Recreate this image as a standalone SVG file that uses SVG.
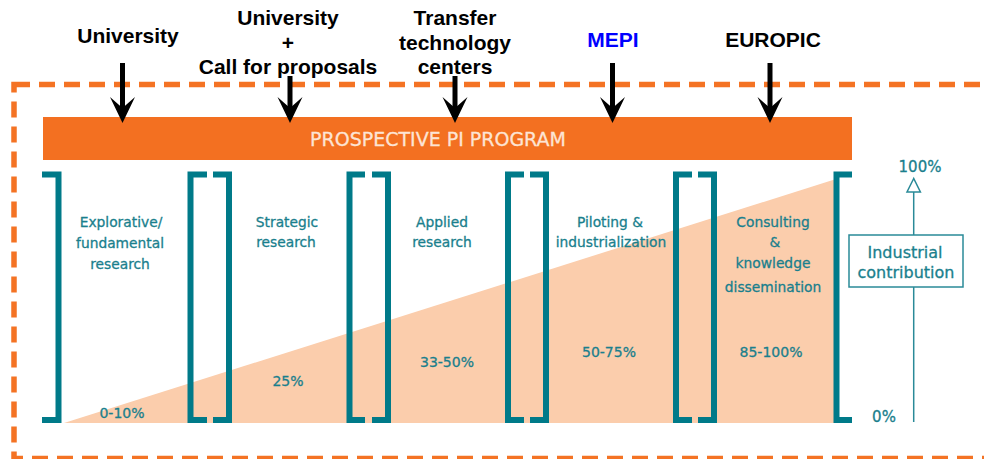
<svg xmlns="http://www.w3.org/2000/svg" width="984" height="459" viewBox="0 0 984 459">
<defs>
<style>
.src{font-family:"Liberation Sans",Arial,sans-serif;font-weight:bold;font-size:21px;fill:#000;text-anchor:middle}
.tl{font-family:"DejaVu Sans",sans-serif;font-size:13.8px;fill:#1a7f8d;stroke:#1a7f8d;stroke-width:0.3;text-anchor:middle}
.pct{font-family:"DejaVu Sans",sans-serif;font-size:14px;fill:#1a7f8d;stroke:#1a7f8d;stroke-width:0.3;text-anchor:middle}
.ax{font-family:"DejaVu Sans",sans-serif;fill:#1a7f8d;stroke:#1a7f8d;stroke-width:0.3;text-anchor:middle}
.br{fill:none;stroke:#007a89;stroke-width:6;stroke-linejoin:miter}
.shaft{stroke:#000;stroke-width:5;fill:none}
.head{fill:#000}
</style>
</defs>
<rect width="984" height="459" fill="#fff"/>
<g id="frame">
<rect x="14" y="84.5" width="980" height="374" fill="none" stroke="#f47324" stroke-width="5.5" stroke-dasharray="16 9"/>
</g>
<g id="triangle">
<polygon points="64,423 836,179 836,423" fill="#fbcdac"/>
</g>
<g id="program-bar">
<rect x="43" y="117" width="809" height="43" fill="#f37021"/>
<text x="438" y="146" font-family="DejaVu Sans,sans-serif" font-size="19" fill="#fde4d4" stroke="#fde4d4" stroke-width="0.3" text-anchor="middle">PROSPECTIVE PI PROGRAM</text>
</g>
<g id="src-university">
<text class="src" x="128" y="43">University</text>
</g>
<g id="src-university-call">
<text class="src" x="288" y="25">University</text>
<text class="src" x="288" y="50">+</text>
<text class="src" x="288" y="74">Call for proposals</text>
</g>
<g id="src-transfer">
<text class="src" x="455" y="25">Transfer</text>
<text class="src" x="455" y="50">technology</text>
<text class="src" x="455" y="74">centers</text>
</g>
<g id="src-mepi">
<text class="src" x="613" y="47" style="fill:#0000ff">MEPI</text>
</g>
<g id="src-europic">
<text class="src" x="773" y="47">EUROPIC</text>
</g>
<g id="connectors">
<line class="shaft" x1="122.5" y1="63" x2="122.5" y2="110"/>
<path class="head" d="M110,97 L122.5,123 L135,97 L122.5,108 Z"/>
<line class="shaft" x1="290" y1="76" x2="290" y2="110"/>
<path class="head" d="M277.5,97 L290,123 L302.5,97 L290,108 Z"/>
<line class="shaft" x1="455" y1="76" x2="455" y2="110"/>
<path class="head" d="M442.5,97 L455,123 L467.5,97 L455,108 Z"/>
<line class="shaft" x1="612.5" y1="63" x2="612.5" y2="110"/>
<path class="head" d="M600,97 L612.5,123 L625,97 L612.5,108 Z"/>
<line class="shaft" x1="770" y1="63" x2="770" y2="110"/>
<path class="head" d="M757.5,97 L770,123 L782.5,97 L770,108 Z"/>
</g>
<g id="brackets">
<path class="br" d="M42,174.5 H58.5 V420 H42"/>
<path class="br" d="M207,174.5 H190.5 V420 H207"/>
<path class="br" d="M213,174.5 H229 V420 H213"/>
<path class="br" d="M365,174.5 H349.5 V420 H365"/>
<path class="br" d="M372,174.5 H388 V420 H372"/>
<path class="br" d="M524,174.5 H508 V420 H524"/>
<path class="br" d="M530,174.5 H546 V420 H530"/>
<path class="br" d="M692,174.5 H676 V420 H692"/>
<path class="br" d="M698,174.5 H714 V420 H698"/>
<path class="br" d="M852,174.5 H836.5 V420 H852"/>
</g>
<g id="stage-explorative">
<text class="tl" x="121" y="227">Explorative/</text>
<text class="tl" x="120" y="248">fundamental</text>
<text class="tl" x="120" y="269">research</text>
<text class="pct" x="122" y="418">0-10%</text>
</g>
<g id="stage-strategic">
<text class="tl" x="287" y="227">Strategic</text>
<text class="tl" x="286" y="247">research</text>
<text class="pct" x="288" y="386">25%</text>
</g>
<g id="stage-applied">
<text class="tl" x="442" y="227">Applied</text>
<text class="tl" x="442" y="247">research</text>
<text class="pct" x="447" y="367">33-50%</text>
</g>
<g id="stage-piloting">
<text class="tl" x="610" y="227">Piloting &amp;</text>
<text class="tl" x="611" y="247">industrialization</text>
<text class="pct" x="609" y="357">50-75%</text>
</g>
<g id="stage-consulting">
<text class="tl" x="773" y="227">Consulting</text>
<text class="tl" x="775" y="247">&amp;</text>
<text class="tl" x="773" y="268">knowledge</text>
<text class="tl" x="773" y="292">dissemination</text>
<text class="pct" x="771" y="357">85-100%</text>
</g>
<g id="axis">
<line x1="913.7" y1="192" x2="913.7" y2="422" stroke="#2a8a98" stroke-width="1.5"/>
<polygon points="913.7,178.5 907,192 920.4,192" fill="#fff" stroke="#2a8a98" stroke-width="1.5"/>
<text class="ax" x="920" y="172" font-size="15">100%</text>
<text class="ax" x="884" y="422" font-size="15">0%</text>
</g>
<g id="industrial-contribution">
<rect x="849" y="235" width="114" height="52" fill="#fff" stroke="#2a8a98" stroke-width="1.5"/>
<text class="ax" x="905" y="258" font-size="16">Industrial</text>
<text class="ax" x="906" y="278" font-size="16">contribution</text>
</g>
</svg>
